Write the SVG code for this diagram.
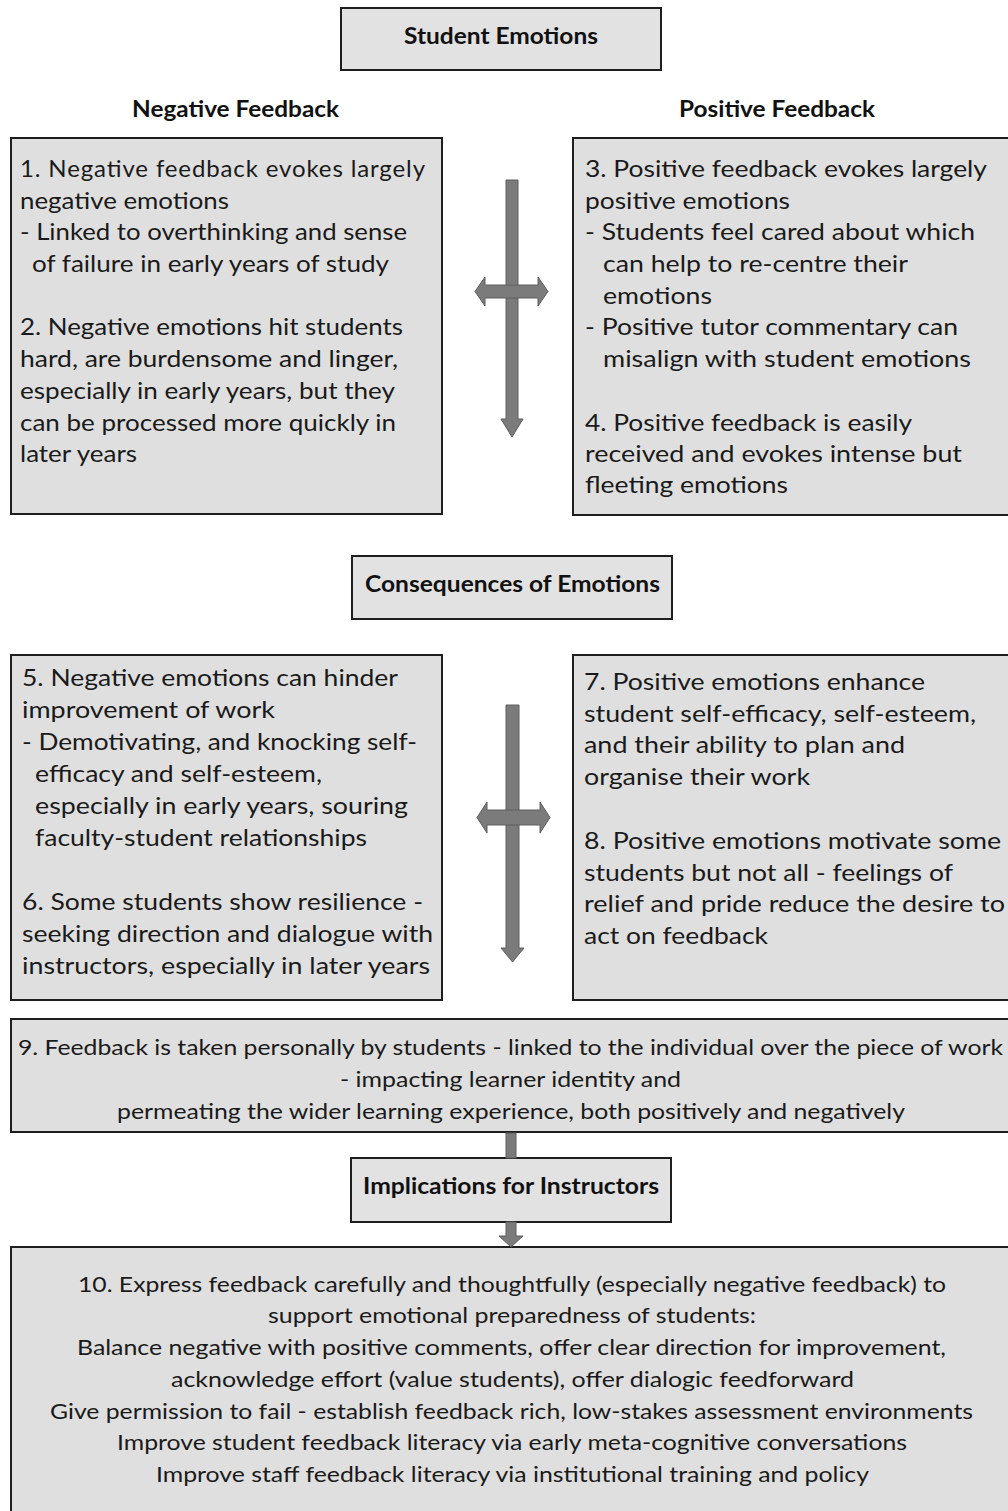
<svg xmlns="http://www.w3.org/2000/svg" width="1008" height="1511" viewBox="0 0 1008 1511">
<style>
.box{fill:#dfdfdf;stroke:#1e1e1e;stroke-width:2}
.hbox{fill:#e2e2e2;stroke:#1e1e1e;stroke-width:2}
.t{font-family:Lato,"Open Sans","Liberation Sans",sans-serif;font-size:24px;fill:#1a1a1a}
.s{font-family:Lato,"Open Sans","Liberation Sans",sans-serif;font-size:21px;fill:#1a1a1a}
.h{font-family:Lato,"Open Sans","Liberation Sans",sans-serif;font-size:23px;font-weight:bold;fill:#111}
.arr{fill:#7b7b7b;stroke:#5e5e5e;stroke-width:1}
</style>
<rect width="1008" height="1511" fill="#ffffff"/>

<g id="student-emotions">
<rect class="hbox" x="341" y="8" width="320" height="62"/>
<text class="h" x="404" y="44" textLength="194" lengthAdjust="spacingAndGlyphs">Student Emotions</text>
</g>
<g id="negative-feedback-label">
<text class="h" x="132" y="117" textLength="207" lengthAdjust="spacingAndGlyphs">Negative Feedback</text>
</g>
<g id="positive-feedback-label">
<text class="h" x="679" y="117" textLength="196" lengthAdjust="spacingAndGlyphs">Positive Feedback</text>
</g>

<g id="box-1-2">
<rect class="box" x="11" y="138" width="431" height="376"/>
<text class="t" lengthAdjust="spacingAndGlyphs">
<tspan x="20" y="177" textLength="405">1. Negative feedback evokes largely</tspan>
</text>
<text class="t" x="20" y="208.5" textLength="209" lengthAdjust="spacingAndGlyphs">negative emotions</text>
<text class="t" x="20" y="240" textLength="387" lengthAdjust="spacingAndGlyphs">- Linked to overthinking and sense</text>
<text class="t" x="32" y="272" textLength="357" lengthAdjust="spacingAndGlyphs">of failure in early years of study</text>
<text class="t" x="20" y="335" textLength="383" lengthAdjust="spacingAndGlyphs">2. Negative emotions hit students</text>
<text class="t" x="20" y="367" textLength="378" lengthAdjust="spacingAndGlyphs">hard, are burdensome and linger,</text>
<text class="t" x="20" y="398.5" textLength="375" lengthAdjust="spacingAndGlyphs">especially in early years, but they</text>
<text class="t" x="20" y="430.5" textLength="376" lengthAdjust="spacingAndGlyphs">can be processed more quickly in</text>
<text class="t" x="20" y="462" textLength="117" lengthAdjust="spacingAndGlyphs">later years</text>
</g>

<g id="box-3-4">
<rect class="box" x="573" y="138" width="445" height="377"/>
<text class="t" x="585" y="177" textLength="402" lengthAdjust="spacingAndGlyphs">3. Positive feedback evokes largely</text>
<text class="t" x="585" y="208.5" textLength="205" lengthAdjust="spacingAndGlyphs">positive emotions</text>
<text class="t" x="585" y="240" textLength="390" lengthAdjust="spacingAndGlyphs">- Students feel cared about which</text>
<text class="t" x="603" y="272" textLength="305" lengthAdjust="spacingAndGlyphs">can help to re-centre their</text>
<text class="t" x="603" y="303.5" textLength="109" lengthAdjust="spacingAndGlyphs">emotions</text>
<text class="t" x="585" y="335" textLength="373" lengthAdjust="spacingAndGlyphs">- Positive tutor commentary can</text>
<text class="t" x="603" y="367" textLength="368" lengthAdjust="spacingAndGlyphs">misalign with student emotions</text>
<text class="t" x="585" y="430.5" textLength="327" lengthAdjust="spacingAndGlyphs">4. Positive feedback is easily</text>
<text class="t" x="585" y="462" textLength="377" lengthAdjust="spacingAndGlyphs">received and evokes intense but</text>
<text class="t" x="585" y="493" textLength="203" lengthAdjust="spacingAndGlyphs">fleeting emotions</text>
</g>

<g id="consequences">
<rect class="hbox" x="352" y="556" width="320" height="63"/>
<text class="h" x="365" y="592" textLength="295" lengthAdjust="spacingAndGlyphs">Consequences of Emotions</text>
</g>

<g id="box-5-6">
<rect class="box" x="11" y="655" width="431" height="345"/>
<text class="t" x="22" y="686" textLength="376" lengthAdjust="spacingAndGlyphs">5. Negative emotions can hinder</text>
<text class="t" x="22" y="718" textLength="253" lengthAdjust="spacingAndGlyphs">improvement of work</text>
<text class="t" x="22" y="750" textLength="395" lengthAdjust="spacingAndGlyphs">- Demotivating, and knocking self-</text>
<text class="t" x="35" y="782" textLength="287" lengthAdjust="spacingAndGlyphs">efficacy and self-esteem,</text>
<text class="t" x="35" y="814" textLength="373" lengthAdjust="spacingAndGlyphs">especially in early years, souring</text>
<text class="t" x="35" y="846" textLength="332" lengthAdjust="spacingAndGlyphs">faculty-student relationships</text>
<text class="t" x="22" y="910" textLength="401" lengthAdjust="spacingAndGlyphs">6. Some students show resilience -</text>
<text class="t" x="22" y="942" textLength="411" lengthAdjust="spacingAndGlyphs">seeking direction and dialogue with</text>
<text class="t" x="22" y="973.5" textLength="408" lengthAdjust="spacingAndGlyphs">instructors, especially in later years</text>
</g>

<g id="box-7-8">
<rect class="box" x="573" y="655" width="445" height="345"/>
<text class="t" x="584" y="689.5" textLength="341" lengthAdjust="spacingAndGlyphs">7. Positive emotions enhance</text>
<text class="t" x="584" y="721.5" textLength="392" lengthAdjust="spacingAndGlyphs">student self-efficacy, self-esteem,</text>
<text class="t" x="584" y="753" textLength="321" lengthAdjust="spacingAndGlyphs">and their ability to plan and</text>
<text class="t" x="584" y="785" textLength="226" lengthAdjust="spacingAndGlyphs">organise their work</text>
<text class="t" x="584" y="848.5" textLength="417" lengthAdjust="spacingAndGlyphs">8. Positive emotions motivate some</text>
<text class="t" x="584" y="880.5" textLength="369" lengthAdjust="spacingAndGlyphs">students but not all - feelings of</text>
<text class="t" x="584" y="912" textLength="421" lengthAdjust="spacingAndGlyphs">relief and pride reduce the desire to</text>
<text class="t" x="584" y="944" textLength="184" lengthAdjust="spacingAndGlyphs">act on feedback</text>
</g>

<g id="box-9">
<rect class="box" x="11" y="1019" width="1007" height="113"/>
<text class="s" x="18" y="1055" textLength="985" lengthAdjust="spacingAndGlyphs">9. Feedback is taken personally by students - linked to the individual over the piece of work</text>
<text class="s" x="340" y="1087" textLength="341" lengthAdjust="spacingAndGlyphs">- impacting learner identity and</text>
<text class="s" x="117" y="1118.5" textLength="788" lengthAdjust="spacingAndGlyphs">permeating the wider learning experience, both positively and negatively</text>
</g>

<g id="implications">
<rect class="hbox" x="351" y="1158" width="320" height="64"/>
<text class="h" x="363" y="1194" textLength="296" lengthAdjust="spacingAndGlyphs">Implications for Instructors</text>
</g>

<g id="box-10">
<rect class="box" x="11" y="1247" width="1007" height="280"/>
<text class="s" x="78" y="1291.5" textLength="868" lengthAdjust="spacingAndGlyphs">10. Express feedback carefully and thoughtfully (especially negative feedback) to</text>
<text class="s" x="268" y="1323" textLength="488" lengthAdjust="spacingAndGlyphs">support emotional preparedness of students:</text>
<text class="s" x="77" y="1355" textLength="869" lengthAdjust="spacingAndGlyphs">Balance negative with positive comments, offer clear direction for improvement,</text>
<text class="s" x="171" y="1386.5" textLength="683" lengthAdjust="spacingAndGlyphs">acknowledge effort (value students), offer dialogic feedforward</text>
<text class="s" x="50" y="1418.5" textLength="923" lengthAdjust="spacingAndGlyphs">Give permission to fail - establish feedback rich, low-stakes assessment environments</text>
<text class="s" x="117" y="1450" textLength="790" lengthAdjust="spacingAndGlyphs">Improve student feedback literacy via early meta-cognitive conversations</text>
<text class="s" x="156" y="1481.5" textLength="713" lengthAdjust="spacingAndGlyphs">Improve staff feedback literacy via institutional training and policy</text>
</g>

<g id="connectors">
<polygon class="arr" points="506,180 518,180 518,419 523,419 512,437 501,419 506,419"/>
<polygon class="arr" points="485,285 538,285 538,277 548,291.5 538,306 538,298 485,298 485,306 475,291.5 485,277"/>
<polygon class="arr" points="506,705 519,705 519,948 524,948 512.5,962 501,948 506,948"/>
<polygon class="arr" points="487,810 540,810 540,802 550,817.5 540,833 540,825 487,825 487,833 477,817.5 487,802"/>
<rect class="arr" x="506" y="1133" width="10" height="25"/>
<polygon class="arr" points="506,1222 516,1222 516,1236 523,1236 511,1247 499,1236 506,1236"/>
</g>
</svg>
